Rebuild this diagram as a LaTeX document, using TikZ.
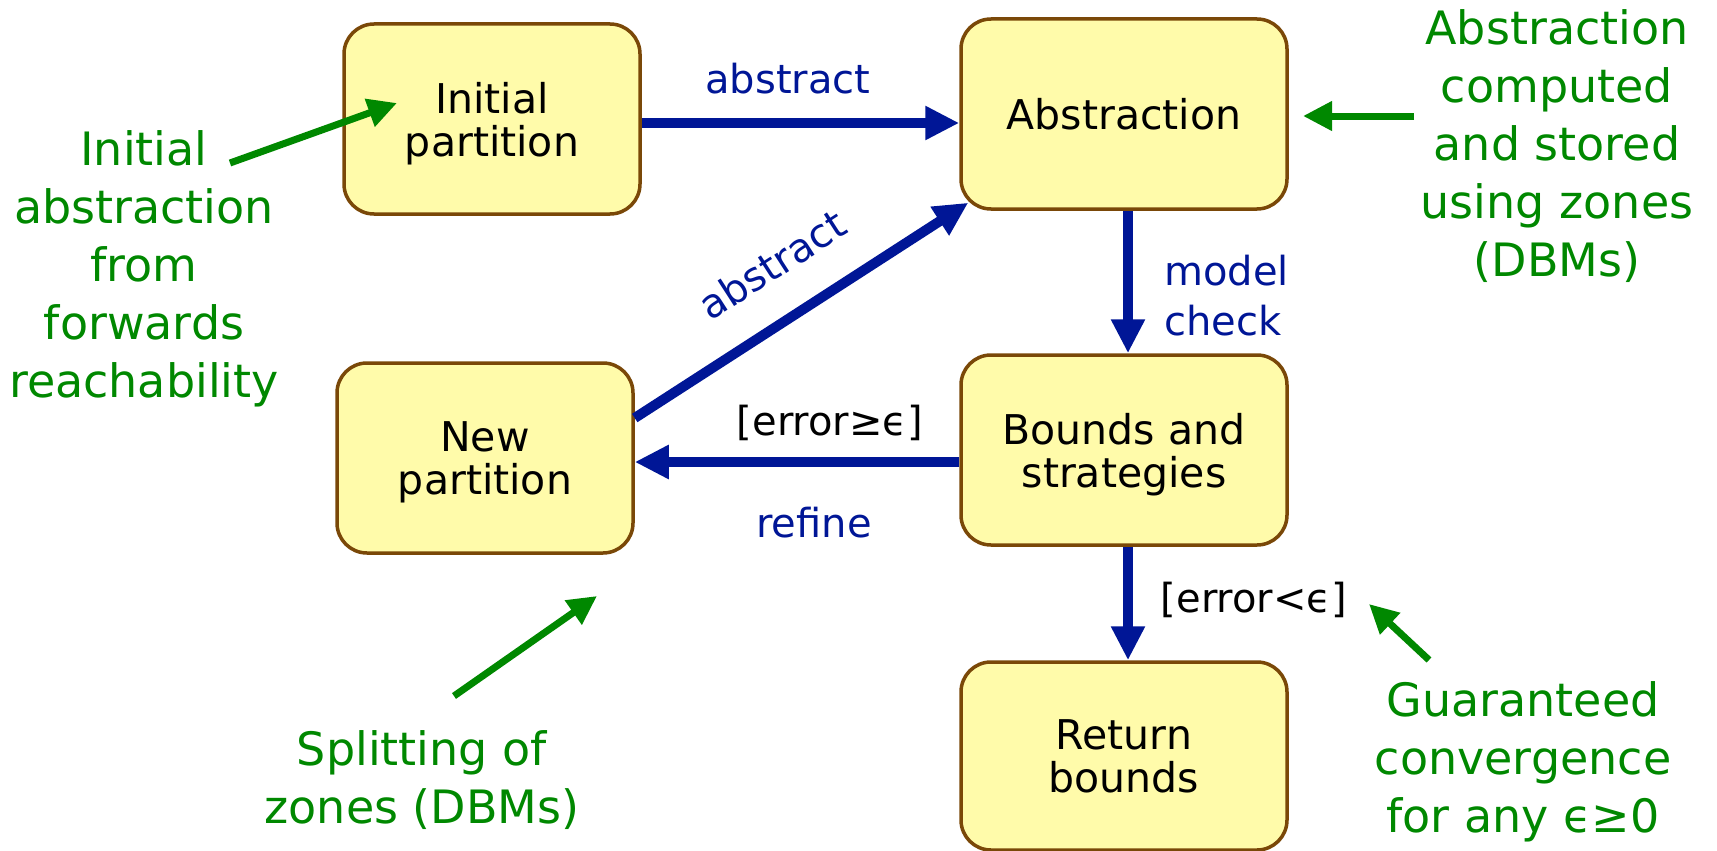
\documentclass[tikz,border=0pt]{standalone}
\usepackage{fontspec}
\setmainfont{DejaVu Sans}
\usetikzlibrary{arrows.meta}
\definecolor{boxfill}{RGB}{255,251,170}
\definecolor{boxline}{RGB}{122,72,8}
\definecolor{flowblue}{RGB}{0,22,150}
\definecolor{noteg}{RGB}{0,136,0}
\begin{document}
\begin{tikzpicture}[x=1pt,y=-1pt,
  stage/.style={draw=boxline, line width=3.5pt, fill=boxfill, rounded corners=30pt,
    minimum width=296pt, minimum height=190pt, align=center, inner sep=0pt,
    text depth=0pt, font=\fontsize{41}{43}\selectfont},
  widestage/.style={stage, minimum width=326pt},
  flow/.style={draw=flowblue, line width=10pt, -{Triangle[length=34pt,width=32pt]}},
  flowlabel/.style={text=flowblue, font=\fontsize{40}{50}\selectfont, inner sep=0pt},
  guard/.style={text=black, font=\fontsize{40}{50}\selectfont, inner sep=0pt},
  note/.style={text=noteg, align=center, font=\fontsize{46}{58}\selectfont, inner sep=0pt},
  pointer/.style={draw=noteg, line width=7pt, -{Triangle[length=29pt,width=28pt]}}]

\useasboundingbox (0,0) rectangle (1717,851);

% process stages
\node[stage] (init) at (492,119) {Initial\\partition};
\node[widestage] (abs) at (1124,114) {Abstraction};
\node[stage] (newp) at (485,458) {New\\partition};
\node[widestage] (bnd) at (1124,450) {Bounds and\\strategies};
\node[widestage, minimum height=188pt] (ret) at (1124,756) {Return\\bounds};

% main flow
\draw[flow] ([yshift=-4pt]init.east) -- ([yshift=-4pt]init.east -| abs.west);
\draw[flow] ([xshift=4pt]abs.south) -- ([xshift=4pt]bnd.north);
\draw[flow] ([yshift=-12pt]bnd.west) -- ([yshift=-12pt]bnd.west -| newp.east);
\draw[flow] ([yshift=40pt]newp.east) -- ([xshift=9pt,yshift=8pt]abs.south west)
  node[flowlabel, midway, sloped, above=34pt] (labdiag) {abstract};
\draw[flow] ([xshift=4pt]bnd.south) -- ([xshift=4pt]ret.north);

% edge labels
\node[flowlabel, anchor=base] (labtop) at (788,93) {abstract};
\node[flowlabel, align=left, anchor=north west] (labmc) at (1164,255) {model\\check};
\node[guard, anchor=base] (gge) at (830,435) {[error≥ϵ]};
\node[flowlabel, anchor=base] (labref) at (814,537) {refine};
\node[guard, anchor=base] (glt) at (1254,612) {[error<ϵ]};

% annotations
\node[note] (n1) at (144,269) {Initial\\abstraction\\from\\forwards\\reachability};
\node[note] (n2) at (1557,146) {Abstraction\\computed\\and stored\\using zones\\(DBMs)};
\node[note] (n3) at (422,780) {Splitting of\\zones (DBMs)};
\node[note] (n4) at (1523,762) {Guaranteed\\convergence\\for any ϵ≥0};

\coordinate (p1s) at (230,163); \coordinate (p1e) at (397,103);
\coordinate (p2s) at (1414,116); \coordinate (p2e) at (1303,116);
\coordinate (p3s) at (454,696); \coordinate (p3e) at (597,596);
\coordinate (p4s) at (1429,660); \coordinate (p4e) at (1369,604);
\draw[pointer] (p1s) -- (p1e);
\draw[pointer] (p2s) -- (p2e);
\draw[pointer] (p3s) -- (p3e);
\draw[pointer] (p4s) -- (p4e);
\end{tikzpicture}
\end{document}
